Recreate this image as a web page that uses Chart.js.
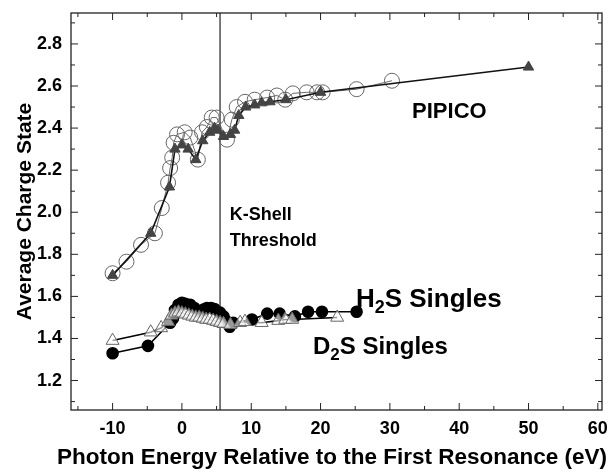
<!DOCTYPE html>
<html lang="en">
<head>
  <title>Average Charge State</title>
  <script src="https://cdn.jsdelivr.net/npm/chart.js"></script>
  <style>
    body { margin: 0; background: #fff; }
    #wrap { width: 614px; height: 476px; }
  </style>
</head>
<body>
  <div id="wrap">
    <canvas id="myChart" width="614" height="476"></canvas>
  </div>
  <script>
    // PIPICO, filled triangles
    const pipTriE = [-10, -4.5, -1.8, -1, 0, 0.9, 2, 3, 4, 4.7, 5.2, 6, 7, 7.6, 8.2, 9.2, 10.5, 11.5, 12.7, 15, 20, 50];
    const pipTriV = [1.70, 1.90, 2.12, 2.30, 2.32, 2.30, 2.25, 2.34, 2.38, 2.40, 2.39, 2.36, 2.37, 2.39, 2.46, 2.50, 2.51, 2.52, 2.525, 2.535, 2.57, 2.69];
    // PIPICO, open circles
    const pipCircE = [-10, -8, -5.9, -3.9, -2.9, -2, -1.7, -1.4, -1.2, -0.7, 0.4, 1.2, 2.3, 2.9, 3.6, 4.3, 5, 6.5, 7.2, 7.9, 9.1, 10.5, 12.3, 13.7, 14.9, 16, 18, 19.5, 20.3, 25.2, 30.3];
    const pipCircV = [1.71, 1.765, 1.845, 1.90, 2.02, 2.14, 2.21, 2.26, 2.33, 2.37, 2.38, 2.355, 2.25, 2.38, 2.405, 2.45, 2.45, 2.345, 2.44, 2.50, 2.525, 2.535, 2.545, 2.555, 2.535, 2.565, 2.57, 2.57, 2.57, 2.585, 2.625];
    // H2S singles, filled circles
    const h2sE = [-10, -4.9, -1.7, -1.3, -1, -0.5, 0, 0.5, 1.2, 1.8, 2.6, 3.1, 3.6, 4.2, 4.7, 5.5, 6, 6.5, 6.9, 7.4, 10.1, 12.3, 14.1, 16.3, 18.2, 20.2, 25.2];
    const h2sV = [1.33, 1.365, 1.475, 1.495, 1.535, 1.56, 1.57, 1.565, 1.56, 1.545, 1.527, 1.537, 1.545, 1.545, 1.54, 1.523, 1.505, 1.48, 1.456, 1.475, 1.49, 1.518, 1.518, 1.505, 1.527, 1.527, 1.527];
    // D2S singles, open triangles
    const d2sE = [-10, -4.5, -3, -2, -1.5, -1, -0.5, 0, 0.5, 1, 1.5, 2, 2.5, 3, 3.5, 4, 4.5, 5, 5.5, 6, 7, 8.4, 9.1, 11.5, 13.9, 14.9, 15.9, 22.4];
    const d2sV = [1.39, 1.43, 1.45, 1.48, 1.51, 1.52, 1.525, 1.52, 1.515, 1.51, 1.505, 1.50, 1.50, 1.495, 1.49, 1.49, 1.485, 1.48, 1.475, 1.47, 1.465, 1.475, 1.48, 1.475, 1.485, 1.49, 1.49, 1.50];

    const xTicks = [-10, 0, 10, 20, 30, 40, 50, 60];
    const yTicks = [1.2, 1.4, 1.6, 1.8, 2.0, 2.2, 2.4, 2.6, 2.8];
    const xMinor = 5, yMinor = 0.1;
    const thresholdE = 5.5;
    const xTitle = 'Photon Energy Relative to the First Resonance (eV)';

    const FONT = '"Liberation Sans", Arial, Helvetica, sans-serif';

    function pts(xs, ys) {
      return xs.map((x, i) => ({ x: x, y: ys[i] }));
    }

    // frame with inward ticks on all four sides + threshold line
    const frame = {
      id: 'frame',
      beforeDatasetsDraw(chart) {
        const { ctx, chartArea: a, scales: { x } } = chart;
        const px = x.getPixelForValue(thresholdE);
        ctx.save();
        ctx.strokeStyle = '#222';
        ctx.lineWidth = 1.2;
        ctx.beginPath();
        ctx.moveTo(px, a.top);
        ctx.lineTo(px, a.bottom);
        ctx.stroke();
        ctx.restore();
      },
      afterDraw(chart) {
        const { ctx, chartArea: a, scales: { x, y } } = chart;
        ctx.save();
        ctx.strokeStyle = '#222';
        ctx.lineWidth = 1.3;
        ctx.strokeRect(a.left, a.top, a.right - a.left, a.bottom - a.top);
        ctx.lineWidth = 1;
        ctx.beginPath();
        for (let v = -15; v <= 60.001; v += xMinor) {
          const p = x.getPixelForValue(v);
          const len = (Math.round(v) % 10 === 0) ? 7 : 4;
          ctx.moveTo(p, a.bottom); ctx.lineTo(p, a.bottom - len);
          ctx.moveTo(p, a.top); ctx.lineTo(p, a.top + len);
        }
        for (let v = 1.1; v <= 2.9001; v += yMinor) {
          const p = y.getPixelForValue(v);
          const major = Math.round(v * 10) % 2 === 0;
          const len = major ? 7 : 4;
          ctx.moveTo(a.left, p); ctx.lineTo(a.left + len, p);
          ctx.moveTo(a.right, p); ctx.lineTo(a.right - len, p);
        }
        ctx.stroke();
        ctx.restore();
      }
    };

    function drawSub(ctx, parts, x, y, size) {
      let cx = x;
      parts.forEach(([t, sub]) => {
        ctx.font = 'bold ' + (sub ? Math.round(size * 0.7) : size) + 'px ' + FONT;
        ctx.fillText(t, cx, sub ? y + size * 0.22 : y);
        cx += ctx.measureText(t).width;
      });
    }

    const labels = {
      id: 'labels',
      afterDraw(chart) {
        const { ctx, scales: { x, y } } = chart;
        ctx.save();
        ctx.fillStyle = '#000';
        ctx.textBaseline = 'alphabetic';
        ctx.textAlign = 'left';
        ctx.font = 'bold 18px ' + FONT;
        ctx.fillText('K-Shell', x.getPixelForValue(6.9), y.getPixelForValue(1.965));
        ctx.fillText('Threshold', x.getPixelForValue(6.9), y.getPixelForValue(1.84));
        ctx.font = 'bold 22px ' + FONT;
        ctx.fillText('PIPICO', x.getPixelForValue(33.2), y.getPixelForValue(2.45));
        drawSub(ctx, [['H', false], ['2', true], ['S Singles', false]], x.getPixelForValue(25.1), y.getPixelForValue(1.55), 26);
        drawSub(ctx, [['D', false], ['2', true], ['S Singles', false]], x.getPixelForValue(18.9), y.getPixelForValue(1.325), 24);
        // x axis title, drawn here so it may be wider than the plot
        ctx.font = 'bold 22.5px ' + FONT;
        ctx.textAlign = 'center';
        ctx.textBaseline = 'middle';
        ctx.fillText(xTitle, 332, chart.height - 18);
        ctx.restore();
      }
    };

    const ctx = document.getElementById('myChart').getContext('2d');
    const myChart = new Chart(ctx, {
      type: 'scatter',
      data: {
        datasets: [
          {
            label: 'PIPICO triangles',
            data: pts(pipTriE, pipTriV),
            showLine: true,
            order: 1,
            borderColor: '#111',
            borderWidth: 1.6,
            pointStyle: 'triangle',
            pointRadius: 6,
            pointBackgroundColor: '#444',
            pointBorderColor: '#444',
            pointBorderWidth: 1
          },
          {
            label: 'PIPICO circles',
            data: pts(pipCircE, pipCircV),
            showLine: true,
            order: 2,
            borderColor: '#444',
            borderWidth: 0.8,
            pointStyle: 'circle',
            pointRadius: 7.5,
            pointBackgroundColor: 'rgba(255,255,255,0)',
            pointBorderColor: '#666',
            pointBorderWidth: 1
          },
          {
            label: 'H2S Singles',
            data: pts(h2sE, h2sV),
            showLine: true,
            order: 4,
            borderColor: '#000',
            borderWidth: 1.6,
            pointStyle: 'circle',
            pointRadius: 5.5,
            pointBackgroundColor: '#000',
            pointBorderColor: '#000'
          },
          {
            label: 'D2S Singles',
            data: pts(d2sE, d2sV),
            showLine: true,
            order: 3,
            borderColor: '#000',
            borderWidth: 1.6,
            pointStyle: 'triangle',
            pointRadius: 7.5,
            pointBackgroundColor: 'rgba(255,255,255,0.6)',
            pointBorderColor: '#666',
            pointBorderWidth: 1
          }
        ]
      },
      options: {
        responsive: false,
        animation: false,
        layout: { padding: { top: 13, right: 12, left: 0, bottom: 0 } },
        plugins: {
          legend: { display: false },
          tooltip: { enabled: false }
        },
        scales: {
          x: {
            type: 'linear',
            min: -16,
            max: 60.6,
            afterBuildTicks: (s) => { s.ticks = xTicks.map(v => ({ value: v })); },
            afterFit: (s) => { s.height = 66; s.paddingLeft = 0; s.paddingRight = 0; },
            grid: { display: false, drawTicks: false },
            border: { display: false },
            ticks: {
              color: '#000',
              padding: 8,
              maxRotation: 0,
              font: { family: FONT, size: 18, weight: 'bold' },
              callback: (v) => String(v)
            },
            title: { display: false }
          },
          y: {
            type: 'linear',
            min: 1.06,
            max: 2.947,
            afterBuildTicks: (s) => { s.ticks = yTicks.map(v => ({ value: v })); },
            afterFit: (s) => { s.width = 71; s.paddingTop = 0; s.paddingBottom = 0; },
            grid: { display: false, drawTicks: false },
            border: { display: false },
            ticks: {
              color: '#000',
              padding: 9,
              font: { family: FONT, size: 18, weight: 'bold' },
              callback: (v) => Number(v).toFixed(1)
            },
            title: {
              display: true,
              text: 'Average Charge State',
              color: '#000',
              padding: { top: 13, bottom: 0 },
              font: { family: FONT, size: 21, weight: 'bold' }
            }
          }
        }
      },
      plugins: [frame, labels]
    });
  </script>
</body>
</html>
